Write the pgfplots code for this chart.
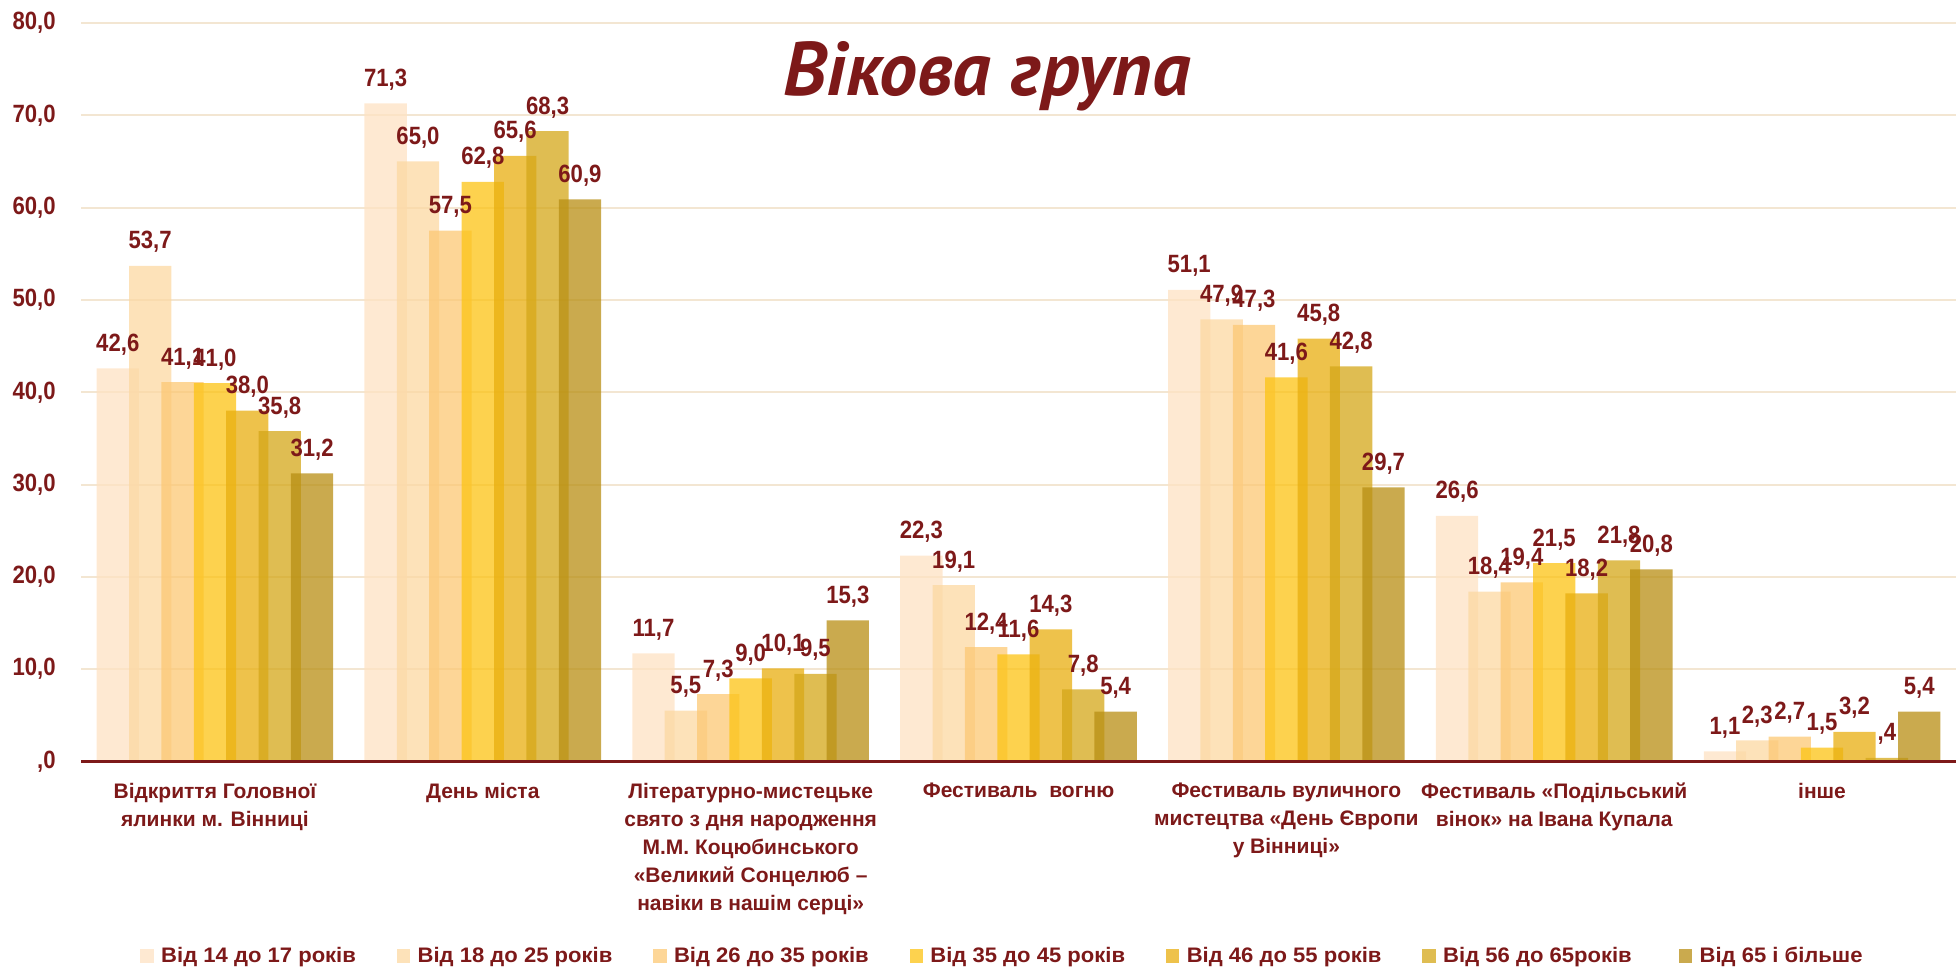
\documentclass[border=0pt]{standalone}
\usepackage{fontspec}
\setmainfont{Liberation Sans}
\newfontfamily\narrowfont{Liberation Sans}[FakeStretch=0.885]
\newfontfamily\legfont{Liberation Sans}[FakeStretch=1.05]
\newfontfamily\titlefont{PT Sans}
\usepackage{pgfplots}
\usepackage{pgfplotstable}
\pgfplotsset{compat=1.18}
\definecolor{dred}{RGB}{125,25,25}
\definecolor{grd}{RGB}{243,230,210}
\definecolor{c1}{RGB}{254,226,195}
\definecolor{c2}{RGB}{252,216,162}
\definecolor{c3}{RGB}{252,200,116}
\definecolor{c4}{RGB}{252,195,19}
\definecolor{c5}{RGB}{232,174,15}
\definecolor{c6}{RGB}{212,167,24}
\definecolor{c7}{RGB}{184,142,19}

\pgfplotstableread{
x y l
0 42.6 42,6
1 71.3 71,3
2 11.7 11,7
3 22.3 22,3
4 51.1 51,1
5 26.6 26,6
6 1.1 1,1
}\sA
\pgfplotstableread{
x y l
0 53.7 53,7
1 65.0 65,0
2 5.5 5,5
3 19.1 19,1
4 47.9 47,9
5 18.4 18,4
6 2.3 2,3
}\sB
\pgfplotstableread{
x y l
0 41.1 41,1
1 57.5 57,5
2 7.3 7,3
3 12.4 12,4
4 47.3 47,3
5 19.4 19,4
6 2.7 2,7
}\sC
\pgfplotstableread{
x y l
0 41.0 41,0
1 62.8 62,8
2 9.0 9,0
3 11.6 11,6
4 41.6 41,6
5 21.5 21,5
6 1.5 1,5
}\sD
\pgfplotstableread{
x y l
0 38.0 38,0
1 65.6 65,6
2 10.1 10,1
3 14.3 14,3
4 45.8 45,8
5 18.2 18,2
6 3.2 3,2
}\sE
\pgfplotstableread{
x y l
0 35.8 35,8
1 68.3 68,3
2 9.5 9,5
3 7.8 7,8
4 42.8 42,8
5 21.8 21,8
6 0.4 ,4
}\sF
\pgfplotstableread{
x y l
0 31.2 31,2
1 60.9 60,9
2 15.3 15,3
3 5.4 5,4
4 29.7 29,7
5 20.8 20,8
6 5.4 5,4
}\sG

\newcommand{\lbl}{\fontsize{10.5}{14}\selectfont\bfseries}
\newcommand{\numf}{\narrowfont\fontsize{12.5}{14}\selectfont\bfseries}
\newcommand{\legf}{\legfont\fontsize{10.5}{12}\selectfont\bfseries}
\newcommand{\legimg}[1]{\fill[#1, fill opacity=0.75] (0pt,-3.5pt) rectangle (6.7pt,3.5pt);}
\newcommand{\legtxt}[1]{\makebox[121.5pt][l]{\hspace{3.7pt}#1}}

\begin{document}
\begin{tikzpicture}
\path[use as bounding box] (0,0) rectangle (978pt,484.5pt);
\begin{axis}[
  at={(40.5pt,103.75pt)}, anchor=south west,
  scale only axis, width=937.5pt, height=369.25pt,
  xmin=-0.5, xmax=6.5, ymin=0, ymax=80,
  ybar, bar width=0.158,
  xtick={0,1,2,3,4,5,6},
  xticklabels={
    {Відкриття Головної\\ялинки м. Вінниці},
    {День міста},
    {Літературно-мистецьке\\свято з дня народження\\М.М. Коцюбинського\\«Великий Сонцелюб –\\навіки в нашім серці»},
    {Фестиваль\ \ вогню},
    {Фестиваль вуличного\\мистецтва «День Європи\\у Вінниці»},
    {Фестиваль «Подільський\\вінок» на Івана Купала},
    {інше}},
  ytick={0,10,20,30,40,50,60,70,80},
  yticklabels={{,0},{10,0},{20,0},{30,0},{40,0},{50,0},{60,0},{70,0},{80,0}},
  major tick length=0pt,
  axis line style={draw=none},
  ymajorgrids, major grid style={draw=grd, line width=1pt},
  xticklabel style={align=center, anchor=north, inner sep=0pt, yshift=-10.5pt, font=\lbl, text=dred},
  yticklabel style={anchor=east, inner sep=0pt, xshift=-12.5pt, font=\numf, text=dred},
  every node near coord/.append style={anchor=base, yshift=8.5pt, inner sep=0pt, font=\numf, text=dred},
  legend columns=7,
  legend style={at={(0.02827,-0.2634)}, anchor=west, draw=none, fill=none,
    /tikz/every even column/.append style={column sep=0pt},
    nodes={inner sep=0pt, text=dred, font=\legf}},
  legend cell align=left,
  clip=false,
]
\addplot[fill=c1, draw=none, fill opacity=0.75, bar shift=-0.3627, legend image code/.code={\legimg{c1}}] table[x=x,y=y]{\sA};
\addlegendentry{\legtxt{Від 14 до 17 років}}
\addplot[fill=c2, draw=none, fill opacity=0.75, bar shift=-0.2418, legend image code/.code={\legimg{c2}}] table[x=x,y=y]{\sB};
\addlegendentry{\legtxt{Від 18 до 25 років}}
\addplot[fill=c3, draw=none, fill opacity=0.75, bar shift=-0.1209, legend image code/.code={\legimg{c3}}] table[x=x,y=y]{\sC};
\addlegendentry{\legtxt{Від 26 до 35 років}}
\addplot[fill=c4, draw=none, fill opacity=0.75, bar shift=0, legend image code/.code={\legimg{c4}}] table[x=x,y=y]{\sD};
\addlegendentry{\legtxt{Від 35 до 45 років}}
\addplot[fill=c5, draw=none, fill opacity=0.75, bar shift=0.1209, legend image code/.code={\legimg{c5}}] table[x=x,y=y]{\sE};
\addlegendentry{\legtxt{Від 46 до 55 років}}
\addplot[fill=c6, draw=none, fill opacity=0.75, bar shift=0.2418, legend image code/.code={\legimg{c6}}] table[x=x,y=y]{\sF};
\addlegendentry{\legtxt{Від 56 до 65років}}
\addplot[fill=c7, draw=none, fill opacity=0.75, bar shift=0.3627, legend image code/.code={\legimg{c7}}] table[x=x,y=y]{\sG};
\addlegendentry{\legtxt{Від 65 і більше}}

\addplot[draw=none, fill=none, bar shift=-0.3627, forget plot, nodes near coords, point meta=explicit symbolic] table[x=x,y=y,meta=l]{\sA};
\addplot[draw=none, fill=none, bar shift=-0.2418, forget plot, nodes near coords, point meta=explicit symbolic] table[x=x,y=y,meta=l]{\sB};
\addplot[draw=none, fill=none, bar shift=-0.1209, forget plot, nodes near coords, point meta=explicit symbolic] table[x=x,y=y,meta=l]{\sC};
\addplot[draw=none, fill=none, bar shift=0, forget plot, nodes near coords, point meta=explicit symbolic] table[x=x,y=y,meta=l]{\sD};
\addplot[draw=none, fill=none, bar shift=0.1209, forget plot, nodes near coords, point meta=explicit symbolic] table[x=x,y=y,meta=l]{\sE};
\addplot[draw=none, fill=none, bar shift=0.2418, forget plot, nodes near coords, point meta=explicit symbolic] table[x=x,y=y,meta=l]{\sF};
\addplot[draw=none, fill=none, bar shift=0.3627, forget plot, nodes near coords, point meta=explicit symbolic] table[x=x,y=y,meta=l]{\sG};

\draw[dred, line width=1.35pt] (rel axis cs:0,0) -- (rel axis cs:1,0);
\end{axis}
\node[font=\titlefont\bfseries\itshape\fontsize{38}{44}\selectfont, text=dred, anchor=base] at (493.5pt,436.5pt) {Вікова група};
\end{tikzpicture}
\end{document}
